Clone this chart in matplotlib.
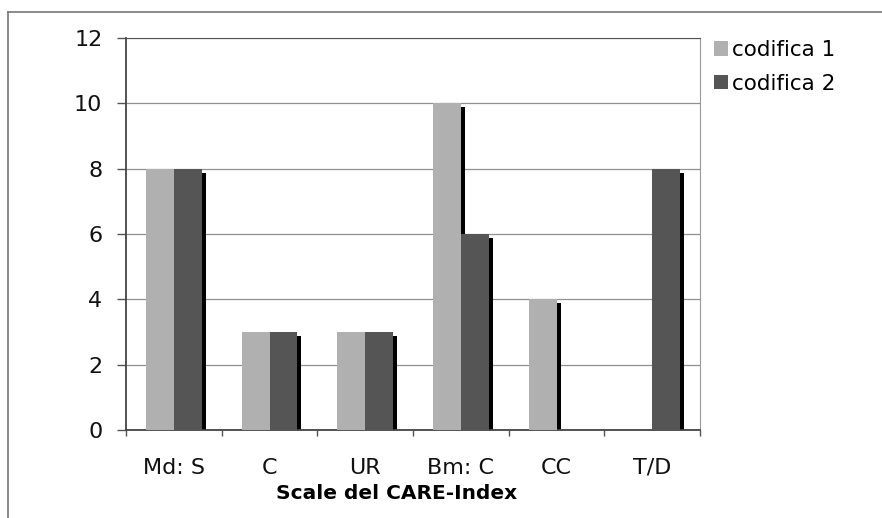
import numpy as np
import matplotlib.pyplot as plt
import matplotlib.transforms as mtransforms
from matplotlib.lines import Line2D

categories = ['Md: S', 'C', 'UR', 'Bm: C', 'CC', 'T/D']
codifica_1 = [8, 3, 3, 10, 4, 0]
codifica_2 = [8, 3, 3, 6, 0, 8]
series_names = ['codifica 1', 'codifica 2']

light = '#b0b0b0'
dark = '#555555'

fig = plt.figure(figsize=(8.82, 5.18), dpi=100)
ax = fig.add_axes([0.1429, 0.1699, 0.6508, 0.7567])

x = np.arange(len(categories))
w = 0.29

# drop shadow: black copies shifted right/down by 4 px
shadow = ax.transData + mtransforms.ScaledTranslation(4 / 100, -4 / 100, fig.dpi_scale_trans)
for vals, off in [(codifica_1, -w / 2), (codifica_2, w / 2)]:
    sb = ax.bar(x + off, vals, w, color='black', linewidth=0, zorder=2)
    for p in sb:
        p.set_transform(shadow)
        if p.get_height() == 0:
            p.set_visible(False)

b1 = ax.bar(x - w / 2, codifica_1, w, color=light, linewidth=0, zorder=3, label=series_names[0])
b2 = ax.bar(x + w / 2, codifica_2, w, color=dark, linewidth=0, zorder=4, label=series_names[1])

ax.set_xlim(-0.5, len(categories) - 0.5)
ax.set_ylim(0, 12)
ax.set_yticks(range(0, 13, 2))
ax.yaxis.grid(True, color='#909090', linewidth=0.9)
ax.set_axisbelow(True)

ax.set_xticks(x)
ax.set_xticklabels(categories)
ax.set_xticks(np.arange(-0.5, len(categories)), minor=True)
ax.tick_params(axis='x', which='major', length=0, pad=20, labelsize=16, colors='#111111')
ax.tick_params(axis='x', which='minor', length=4.5, width=1, color='#555555', direction='out')
ax.tick_params(axis='y', length=6.5, width=1, color='#555555', direction='out',
               labelsize=16, pad=10.5, labelcolor='#111111')

for side in ['left', 'bottom']:
    ax.spines[side].set_color('#444444')
    ax.spines[side].set_linewidth(1.3)
ax.spines['top'].set_color('#555555')
ax.spines['right'].set_color('#999999')

ax.set_xlabel('Scale del CARE-Index', fontsize=14.5, fontweight='bold', va='center')
ax.xaxis.set_label_coords((397 - 126) / 574, -(494 - 430) / 392)

leg = fig.legend(handles=[b1, b2], loc='upper left', bbox_to_anchor=(714 / 882, 1 - 40 / 518),
                 frameon=False, fontsize=15.5, handlelength=0.65, handleheight=0.65,
                 handletextpad=0.2, labelspacing=0.64, borderpad=0, borderaxespad=0)

# outer frame (left and top edges visible)
fig.add_artist(Line2D([8 / 882, 8 / 882], [0, 1 - 12 / 518], color='#777777', lw=1.2))
fig.add_artist(Line2D([8 / 882, 1], [1 - 12 / 518, 1 - 12 / 518], color='#777777', lw=1.2))

fig.savefig('out.png', dpi=100)
